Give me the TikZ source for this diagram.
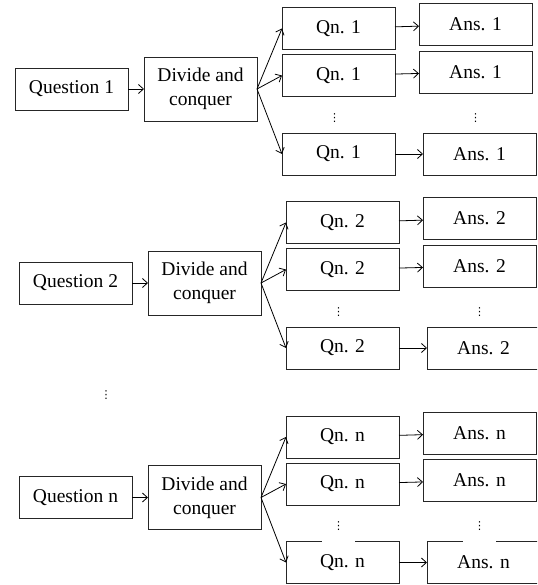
\documentclass[tikz,border=0pt]{standalone}
\usepackage{fontspec}
\setmainfont{Liberation Serif}
\newfontfamily\dotsfont{DejaVu Sans}
\usetikzlibrary{arrows.meta}

\begin{document}
\begin{tikzpicture}[x=1pt,y=-1pt,font=\fontsize{19.5}{24}\selectfont,
  box/.style={draw=black!85,line width=0.9pt,minimum width=113pt,minimum height=42pt,inner sep=0pt,outer sep=0pt},
  dcbox/.style={box,minimum height=64pt,align=center},
  gap/.style={fill=white,minimum width=33pt,minimum height=30pt,inner sep=0pt,font=\dotsfont\fontsize{11}{12}\selectfont},
  arr/.style={-{Straight Barb[length=5pt,width=9pt]},line width=0.8pt}]
\clip (0,0) rectangle (537,585);
\foreach \oy/\ox/\k in {0/0/1, 194/4/2, 408.5/4/n}{
  \node[box] (q\k) at (71.5+\ox,89+\oy) {Question \k};
  \node[dcbox] (d\k) at (200.5+\ox,89+\oy) {Divide and\\conquer};
  \node[box] (sa\k) at (338.5+\ox,28.5+\oy) {Qn. \k};
  \node[box] (sb\k) at (338.5+\ox,75.5+\oy) {Qn. \k};
  \node[box] (sc\k) at (338.5+\ox,154+\oy) {Qn. \k};
  \node[box] (ra\k) at (475.5+\ox,24.5+\oy) {Ans. \k};
  \node[box] (rb\k) at (475.5+\ox,72+\oy) {Ans. \k};
  \node[box] (rc\k) at (479.5+\ox,154+\oy) {Ans. \k};
  % dots hide part of the top border of the last boxes
  \node[gap] (ds\k) at (334.5+\ox,118+\oy) {⋮};
  \node[gap] (dr\k) at (475.5+\ox,118+\oy) {⋮};
  \draw[arr] (q\k) -- (d\k);
  \draw[arr] (d\k.east) -- (sa\k.west);
  \draw[arr] (d\k.east) -- (sb\k.west);
  \draw[arr] (d\k.east) -- (sc\k.west);
  \draw[arr] (sa\k) -- (ra\k);
  \draw[arr] (sb\k) -- (rb\k);
  \draw[arr] (sc\k) -- (rc\k);}
\node[font=\dotsfont\fontsize{11}{12}\selectfont] (gd) at (106,395) {⋮};
\end{tikzpicture}
\end{document}
